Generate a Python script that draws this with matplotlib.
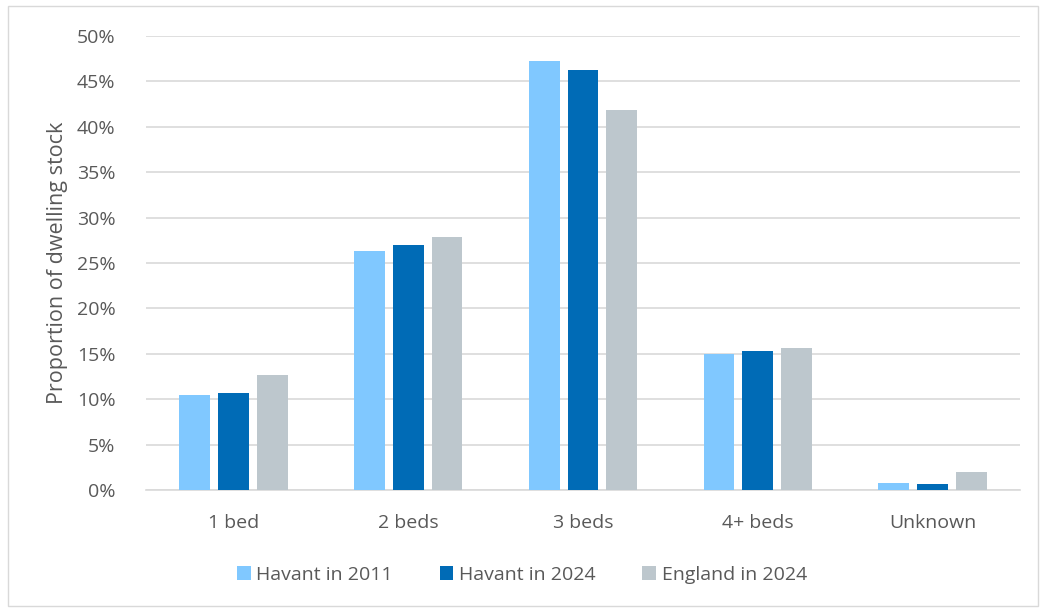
import numpy as np
import matplotlib.pyplot as plt
from matplotlib.patches import Rectangle

plt.rc('font', family=['Open Sans', 'DejaVu Sans'], size=12)

categories = ['1 bed', '2 beds', '3 beds', '4+ beds', 'Unknown']
havant_2011 = [10.5, 26.3, 47.3, 15.0, 0.73]
havant_2024 = [10.65, 27.0, 46.3, 15.3, 0.66]
england_2024 = [12.7, 27.9, 41.8, 15.6, 1.95]
series_names = ['Havant in 2011', 'Havant in 2024', 'England in 2024']
colours = ['#80C8FF', '#006BB6', '#BDC7CD']
yticks = np.arange(0, 51, 5)

txt = '#595959'

fig = plt.figure(figsize=(10.44, 6.10), dpi=100, facecolor='white')
ax = fig.add_axes([146/1044, 1-490/610, 874/1044, 454/610])

# chart border
fig.patches.append(Rectangle((8/1044, 4/610), 1030/1044, 600/610, transform=fig.transFigure,
                             fill=False, edgecolor='#D9D9D9', linewidth=1))

x = np.arange(len(categories))
w = 0.176
step = 0.222
for i, (vals, name, c) in enumerate(zip([havant_2011, havant_2024, england_2024], series_names, colours)):
    ax.bar(x + (i-1)*step, vals, width=w, color=c, label=name, zorder=3)

ax.set_xlim(-0.5, len(categories)-0.5)
ax.set_ylim(0, 50)
ax.set_yticks(yticks)
ax.set_yticklabels(['%d%%' % t for t in yticks])
ax.set_xticks(x)
ax.set_xticklabels(categories)
ax.yaxis.grid(True, color='#D9D9D9', linewidth=1.2, zorder=0)
ax.tick_params(length=0, colors=txt, labelsize=14)
ax.tick_params(axis='y', pad=22)
ax.tick_params(axis='x', pad=17)
for s in ['top', 'right', 'left']:
    ax.spines[s].set_visible(False)
ax.spines['bottom'].set_color('#D9D9D9')
ax.spines['bottom'].set_linewidth(1.2)

ax.set_ylabel('Proportion of dwelling stock', color=txt, fontsize=15.5, labelpad=6)

leg = fig.legend(loc='center', bbox_to_anchor=(0.5, 1-575/610), ncol=3, frameon=False,
                 fontsize=14, handlelength=0.7, handleheight=0.7, handletextpad=0.3,
                 columnspacing=2.4)
for t in leg.get_texts():
    t.set_color(txt)

fig.savefig('out.png', dpi=100, facecolor='white')
